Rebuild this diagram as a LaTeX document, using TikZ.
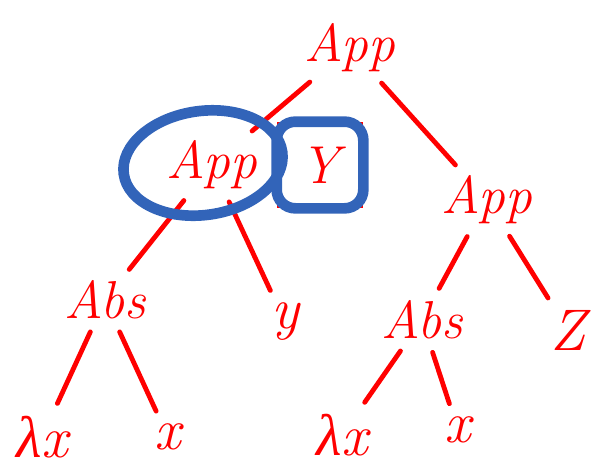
\documentclass[tikz,border=0pt]{standalone}
\usepackage{fontspec}
\usepackage{tikz}
\usetikzlibrary{arrows.meta}
\newfontfamily\lamfont{Liberation Serif}
\definecolor{penblue}{RGB}{50,100,185}

\tikzset{
	term/.style={text=red, font=\fontsize{40}{44}\selectfont\itshape, inner sep=2pt},
	leaf/.style={term, font=\fontsize{44}{48}\selectfont\itshape},
	edge/.style={red, line width=3.6pt, line cap=round, shorten <=8pt, shorten >=8pt},
	circled/.style={draw=penblue, line width=8pt},
}

\begin{document}
\begin{tikzpicture}[x=0.75pt, y=-0.75pt]
	\useasboundingbox (0,0) rectangle (597,469);
	% the tree
	\node[term] (root) at (350,48) {App};
	\node[term] (lapp) at (212,165) {App};
	\node[term] (rapp) at (487,200) {App};
	\node[term, draw=red, line width=3pt, minimum width=62pt, minimum height=62pt] (one) at (320,165) {Y};
	\node[term] (labs) at (105,300) {Abs};
	\node[leaf] (ly) at (285,322) {y};
	\node[term] (rabs) at (422,320) {Abs};
	\node[leaf] (rz) at (568,330) {Z};
	\node[leaf] (llam) at (42,437) {{\lamfont\itshape λ}x};
	\node[leaf] (lx) at (168,437) {x};
	\node[leaf] (rlam) at (342,435) {{\lamfont\itshape λ}x};
	\node[leaf] (rx) at (458,430) {x};
	% connectors
	\draw[edge] (root) -- (lapp);
	\draw[edge] (root) -- (rapp);
	\draw[edge] (lapp) -- (labs);
	\draw[edge] (lapp) -- (ly);
	\draw[edge] (rapp) -- (rabs);
	\draw[edge] (rapp) -- (rz);
	\draw[edge] (labs) -- (llam);
	\draw[edge] (labs) -- (lx);
	\draw[edge] (rabs) -- (rlam);
	\draw[edge] (rabs) -- (rx);
	% blue marks
	\draw[circled, rotate around={8:(203,163)}] (203,163) ellipse (80 and 52);
	\draw[circled, rounded corners=14pt] (one.north west) rectangle (one.south east);
\end{tikzpicture}
\end{document}
